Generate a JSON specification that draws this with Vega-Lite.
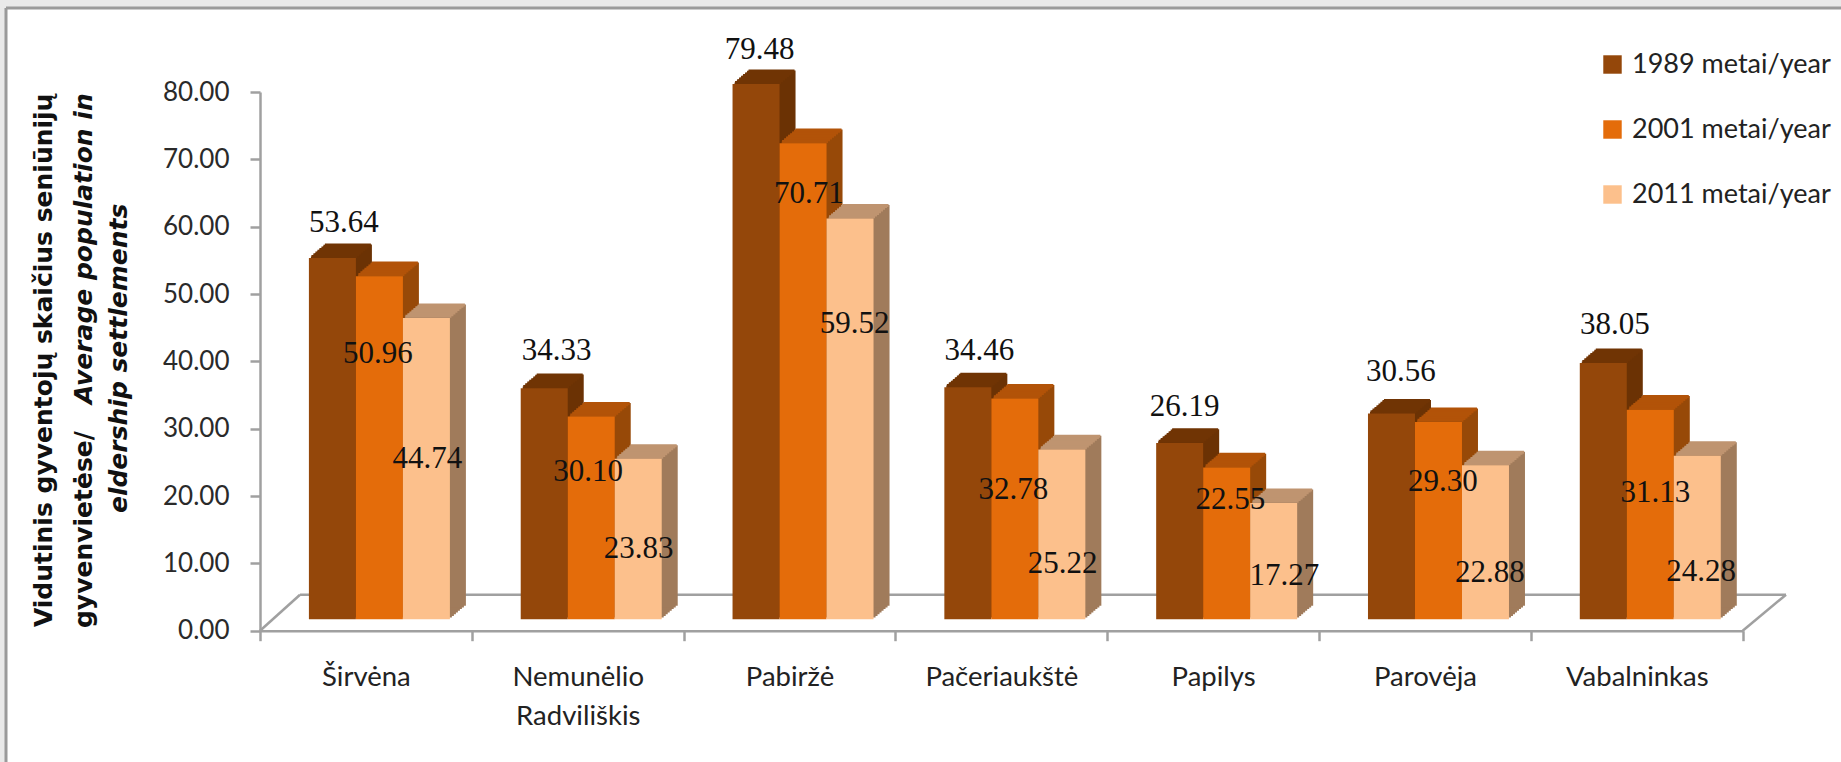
{"$schema":"https://vega.github.io/schema/vega-lite/v6.json","width":1835,"height":754,"autosize":{"type":"none"},"padding":{"left":6,"top":8,"right":0,"bottom":0},"background":"#e9e9e9","view":{"fill":"#ffffff","stroke":"#9a9a9a","strokeWidth":3,"strokeDash":[1835,2589,754,0]},
"config":{"text":{"font":"Liberation Serif","fontSize":31,"color":"#111111","baseline":"middle","align":"center"},"bar":{"width":47,"cornerRadius":0}},
"data":{"values":[
{"c":"Širvėna","s":"1989 metai/year","v":53.64},{"c":"Nemunėlio Radviliškis","s":"1989 metai/year","v":34.33},{"c":"Pabiržė","s":"1989 metai/year","v":79.48},{"c":"Pačeriaukštė","s":"1989 metai/year","v":34.46},{"c":"Papilys","s":"1989 metai/year","v":26.19},{"c":"Parovėja","s":"1989 metai/year","v":30.56},{"c":"Vabalninkas","s":"1989 metai/year","v":38.05},
{"c":"Širvėna","s":"2001 metai/year","v":50.96},{"c":"Nemunėlio Radviliškis","s":"2001 metai/year","v":30.10},{"c":"Pabiržė","s":"2001 metai/year","v":70.71},{"c":"Pačeriaukštė","s":"2001 metai/year","v":32.78},{"c":"Papilys","s":"2001 metai/year","v":22.55},{"c":"Parovėja","s":"2001 metai/year","v":29.30},{"c":"Vabalninkas","s":"2001 metai/year","v":31.13},
{"c":"Širvėna","s":"2011 metai/year","v":44.74},{"c":"Nemunėlio Radviliškis","s":"2011 metai/year","v":23.83},{"c":"Pabiržė","s":"2011 metai/year","v":59.52},{"c":"Pačeriaukštė","s":"2011 metai/year","v":25.22},{"c":"Papilys","s":"2011 metai/year","v":17.27},{"c":"Parovėja","s":"2011 metai/year","v":22.88},{"c":"Vabalninkas","s":"2011 metai/year","v":24.28}
]},
"encoding":{
"x":{"field":"c","type":"nominal","scale":{"domain":["Širvėna","Nemunėlio Radviliškis","Pabiržė","Pačeriaukštė","Papilys","Parovėja","Vabalninkas"],"range":[254,1736.7],"paddingInner":0,"paddingOuter":0},"axis":{"title":null,"offset":-131.3,"labelAngle":0,"tickBand":"extent","tickSize":10,"tickWidth":2.5,"tickColor":"#a0a0a0","domainColor":"#a0a0a0","domainWidth":2.5,"labelFont":"Lato","labelFontSize":27.5,"labelColor":"#222222","labelPadding":23,"labelLineHeight":39,"labelExpr":"split(datum.label,' ')"}},
"y":{"field":"v","type":"quantitative","stack":null,"scale":{"domain":[0,80],"nice":false,"range":[622.7,84]},"axis":{"title":null,"offset":-254,"grid":false,"values":[0,10,20,30,40,50,60,70,80],"format":".2f","tickSize":10,"tickWidth":2.5,"tickColor":"#a0a0a0","domainColor":"#a0a0a0","domainWidth":2.5,"labelFont":"Lato","labelFontSize":26,"labelColor":"#2a2a2a","labelPadding":21}}
},
"layer":[
{"data":{"values":[{"a":"Širvėna","b":"Širvėna","z":0}]},"mark":{"type":"rule","color":"#a0a0a0","strokeWidth":2.5,"xOffset":-105.9,"x2Offset":-65.9,"yOffset":0,"y2Offset":-36},"encoding":{"x":{"field":"a","type":"nominal"},"x2":{"field":"b"},"y":{"field":"z","type":"quantitative"},"y2":{"field":"z"}}},
{"data":{"values":[{"a":"Širvėna","b":"Vabalninkas","z":0}]},"mark":{"type":"rule","color":"#a0a0a0","strokeWidth":2.5,"xOffset":-65.9,"x2Offset":149.2,"yOffset":-36,"y2Offset":-36},"encoding":{"x":{"field":"a","type":"nominal"},"x2":{"field":"b"},"y":{"field":"z","type":"quantitative"},"y2":{"field":"z"}}},
{"data":{"values":[{"a":"Vabalninkas","b":"Vabalninkas","z":0}]},"mark":{"type":"rule","color":"#a0a0a0","strokeWidth":2.5,"xOffset":105.9,"x2Offset":149.2,"yOffset":0,"y2Offset":-36},"encoding":{"x":{"field":"a","type":"nominal"},"x2":{"field":"b"},"y":{"field":"z","type":"quantitative"},"y2":{"field":"z"}}},
{"transform":[{"filter":"datum.s=='1989 metai/year'"}],"layer":[
{"encoding":{"y2":{"datum":0}},"layer":[
{"mark":{"type":"bar","color":"#6b3204","xOffset":-31.5,"yOffset":-13.1,"y2Offset":-13.1}},
{"mark":{"type":"bar","color":"#6b3204","xOffset":-29.5,"yOffset":-14.8,"y2Offset":-14.8}},
{"mark":{"type":"bar","color":"#6b3204","xOffset":-27.5,"yOffset":-16.5,"y2Offset":-16.5}},
{"mark":{"type":"bar","color":"#6b3204","xOffset":-25.5,"yOffset":-18.2,"y2Offset":-18.2}},
{"mark":{"type":"bar","color":"#6b3204","xOffset":-23.5,"yOffset":-19.9,"y2Offset":-19.9}},
{"mark":{"type":"bar","color":"#6b3204","xOffset":-21.5,"yOffset":-21.6,"y2Offset":-21.6}},
{"mark":{"type":"bar","color":"#6b3204","xOffset":-19.5,"yOffset":-23.3,"y2Offset":-23.3}},
{"mark":{"type":"bar","color":"#6b3204","xOffset":-17.5,"yOffset":-25,"y2Offset":-25}}
]},
{"encoding":{"y2":{"field":"v"}},"layer":[
{"mark":{"type":"bar","width":46,"strokeWidth":3,"stroke":"#703404","xOffset":-31.5,"yOffset":-13.1,"y2Offset":-13.1}},
{"mark":{"type":"bar","width":46,"strokeWidth":3,"stroke":"#703404","xOffset":-29.5,"yOffset":-14.8,"y2Offset":-14.8}},
{"mark":{"type":"bar","width":46,"strokeWidth":3,"stroke":"#703404","xOffset":-27.5,"yOffset":-16.5,"y2Offset":-16.5}},
{"mark":{"type":"bar","width":46,"strokeWidth":3,"stroke":"#703404","xOffset":-25.5,"yOffset":-18.2,"y2Offset":-18.2}},
{"mark":{"type":"bar","width":46,"strokeWidth":3,"stroke":"#703404","xOffset":-23.5,"yOffset":-19.9,"y2Offset":-19.9}},
{"mark":{"type":"bar","width":46,"strokeWidth":3,"stroke":"#703404","xOffset":-21.5,"yOffset":-21.6,"y2Offset":-21.6}},
{"mark":{"type":"bar","width":46,"strokeWidth":3,"stroke":"#703404","xOffset":-19.5,"yOffset":-23.3,"y2Offset":-23.3}},
{"mark":{"type":"bar","width":46,"strokeWidth":3,"stroke":"#703404","xOffset":-18,"yOffset":-24.5,"y2Offset":-24.5}}
]}
]},
{"transform":[{"filter":"datum.s=='2001 metai/year'"}],"layer":[
{"encoding":{"y2":{"datum":0}},"layer":[
{"mark":{"type":"bar","color":"#974908","xOffset":15.5,"yOffset":-13.1,"y2Offset":-13.1}},
{"mark":{"type":"bar","color":"#974908","xOffset":17.5,"yOffset":-14.8,"y2Offset":-14.8}},
{"mark":{"type":"bar","color":"#974908","xOffset":19.5,"yOffset":-16.5,"y2Offset":-16.5}},
{"mark":{"type":"bar","color":"#974908","xOffset":21.5,"yOffset":-18.2,"y2Offset":-18.2}},
{"mark":{"type":"bar","color":"#974908","xOffset":23.5,"yOffset":-19.9,"y2Offset":-19.9}},
{"mark":{"type":"bar","color":"#974908","xOffset":25.5,"yOffset":-21.6,"y2Offset":-21.6}},
{"mark":{"type":"bar","color":"#974908","xOffset":27.5,"yOffset":-23.3,"y2Offset":-23.3}},
{"mark":{"type":"bar","color":"#974908","xOffset":29.5,"yOffset":-25,"y2Offset":-25}}
]},
{"encoding":{"y2":{"field":"v"}},"layer":[
{"mark":{"type":"bar","width":46,"strokeWidth":3,"stroke":"#b25308","xOffset":15.5,"yOffset":-13.1,"y2Offset":-13.1}},
{"mark":{"type":"bar","width":46,"strokeWidth":3,"stroke":"#b25308","xOffset":17.5,"yOffset":-14.8,"y2Offset":-14.8}},
{"mark":{"type":"bar","width":46,"strokeWidth":3,"stroke":"#b25308","xOffset":19.5,"yOffset":-16.5,"y2Offset":-16.5}},
{"mark":{"type":"bar","width":46,"strokeWidth":3,"stroke":"#b25308","xOffset":21.5,"yOffset":-18.2,"y2Offset":-18.2}},
{"mark":{"type":"bar","width":46,"strokeWidth":3,"stroke":"#b25308","xOffset":23.5,"yOffset":-19.9,"y2Offset":-19.9}},
{"mark":{"type":"bar","width":46,"strokeWidth":3,"stroke":"#b25308","xOffset":25.5,"yOffset":-21.6,"y2Offset":-21.6}},
{"mark":{"type":"bar","width":46,"strokeWidth":3,"stroke":"#b25308","xOffset":27.5,"yOffset":-23.3,"y2Offset":-23.3}},
{"mark":{"type":"bar","width":46,"strokeWidth":3,"stroke":"#b25308","xOffset":29,"yOffset":-24.5,"y2Offset":-24.5}}
]}
]},
{"transform":[{"filter":"datum.s=='2011 metai/year'"}],"layer":[
{"encoding":{"y2":{"datum":0}},"layer":[
{"mark":{"type":"bar","color":"#a07b5b","xOffset":62.5,"yOffset":-13.1,"y2Offset":-13.1}},
{"mark":{"type":"bar","color":"#a07b5b","xOffset":64.5,"yOffset":-14.8,"y2Offset":-14.8}},
{"mark":{"type":"bar","color":"#a07b5b","xOffset":66.5,"yOffset":-16.5,"y2Offset":-16.5}},
{"mark":{"type":"bar","color":"#a07b5b","xOffset":68.5,"yOffset":-18.2,"y2Offset":-18.2}},
{"mark":{"type":"bar","color":"#a07b5b","xOffset":70.5,"yOffset":-19.9,"y2Offset":-19.9}},
{"mark":{"type":"bar","color":"#a07b5b","xOffset":72.5,"yOffset":-21.6,"y2Offset":-21.6}},
{"mark":{"type":"bar","color":"#a07b5b","xOffset":74.5,"yOffset":-23.3,"y2Offset":-23.3}},
{"mark":{"type":"bar","color":"#a07b5b","xOffset":76.5,"yOffset":-25,"y2Offset":-25}}
]},
{"encoding":{"y2":{"field":"v"}},"layer":[
{"mark":{"type":"bar","width":46,"strokeWidth":3,"stroke":"#bf9470","xOffset":62.5,"yOffset":-13.1,"y2Offset":-13.1}},
{"mark":{"type":"bar","width":46,"strokeWidth":3,"stroke":"#bf9470","xOffset":64.5,"yOffset":-14.8,"y2Offset":-14.8}},
{"mark":{"type":"bar","width":46,"strokeWidth":3,"stroke":"#bf9470","xOffset":66.5,"yOffset":-16.5,"y2Offset":-16.5}},
{"mark":{"type":"bar","width":46,"strokeWidth":3,"stroke":"#bf9470","xOffset":68.5,"yOffset":-18.2,"y2Offset":-18.2}},
{"mark":{"type":"bar","width":46,"strokeWidth":3,"stroke":"#bf9470","xOffset":70.5,"yOffset":-19.9,"y2Offset":-19.9}},
{"mark":{"type":"bar","width":46,"strokeWidth":3,"stroke":"#bf9470","xOffset":72.5,"yOffset":-21.6,"y2Offset":-21.6}},
{"mark":{"type":"bar","width":46,"strokeWidth":3,"stroke":"#bf9470","xOffset":74.5,"yOffset":-23.3,"y2Offset":-23.3}},
{"mark":{"type":"bar","width":46,"strokeWidth":3,"stroke":"#bf9470","xOffset":76,"yOffset":-24.5,"y2Offset":-24.5}}
]}
]},
{"encoding":{"y2":{"datum":0},"color":{"field":"s","type":"nominal","scale":{"domain":["1989 metai/year","2001 metai/year","2011 metai/year"],"range":["#94470a","#e46c0a","#fcc08c"]},"legend":{"title":null,"orient":"none","legendX":1593,"legendY":43,"labelLimit":400,"symbolType":"square","symbolSize":340,"symbolStrokeWidth":0,"symbolOpacity":1,"labelFont":"Lato","labelFontSize":27,"labelColor":"#222222","labelOffset":6,"rowPadding":37}}},"layer":[
{"transform":[{"filter":"datum.s=='1989 metai/year'"}],"mark":{"type":"bar","xOffset":-33.5,"yOffset":-11.4,"y2Offset":-11.4}},
{"transform":[{"filter":"datum.s=='2001 metai/year'"}],"mark":{"type":"bar","xOffset":13.5,"yOffset":-11.4,"y2Offset":-11.4}},
{"transform":[{"filter":"datum.s=='2011 metai/year'"}],"mark":{"type":"bar","xOffset":60.5,"yOffset":-11.4,"y2Offset":-11.4}}
]},
{"encoding":{"text":{"field":"v","type":"quantitative","format":".2f"}},"layer":[
{"transform":[{"filter":"datum.v==53.64"}],"mark":{"type":"text","dx":-22,"dy":-46.5}},
{"transform":[{"filter":"datum.v==34.33"}],"mark":{"type":"text","dx":-21,"dy":-48.5}},
{"transform":[{"filter":"datum.v==79.48"}],"mark":{"type":"text","dx":-30,"dy":-46}},
{"transform":[{"filter":"datum.v==34.46"}],"mark":{"type":"text","dx":-22,"dy":-47.6}},
{"transform":[{"filter":"datum.v==26.19"}],"mark":{"type":"text","dx":-28.5,"dy":-47}},
{"transform":[{"filter":"datum.v==30.56"}],"mark":{"type":"text","dx":-24,"dy":-52.7}},
{"transform":[{"filter":"datum.v==38.05"}],"mark":{"type":"text","dx":-22,"dy":-49.3}},
{"transform":[{"filter":"datum.v==50.96"}],"mark":{"type":"text","dx":12,"dy":66}},
{"transform":[{"filter":"datum.v==30.10"}],"mark":{"type":"text","dx":10.5,"dy":44}},
{"transform":[{"filter":"datum.v==70.71"}],"mark":{"type":"text","dx":19.4,"dy":39}},
{"transform":[{"filter":"datum.v==32.78"}],"mark":{"type":"text","dx":12,"dy":79.6}},
{"transform":[{"filter":"datum.v==22.55"}],"mark":{"type":"text","dx":17.3,"dy":21.3}},
{"transform":[{"filter":"datum.v==29.30"}],"mark":{"type":"text","dx":18,"dy":49}},
{"transform":[{"filter":"datum.v==31.13"}],"mark":{"type":"text","dx":18.6,"dy":72}},
{"transform":[{"filter":"datum.v==44.74"}],"mark":{"type":"text","dx":61.4,"dy":130}},
{"transform":[{"filter":"datum.v==23.83"}],"mark":{"type":"text","dx":61,"dy":79}},
{"transform":[{"filter":"datum.v==59.52"}],"mark":{"type":"text","dx":65.2,"dy":94}},
{"transform":[{"filter":"datum.v==25.22"}],"mark":{"type":"text","dx":61.2,"dy":103}},
{"transform":[{"filter":"datum.v==17.27"}],"mark":{"type":"text","dx":71.3,"dy":62}},
{"transform":[{"filter":"datum.v==22.88"}],"mark":{"type":"text","dx":64.9,"dy":96}},
{"transform":[{"filter":"datum.v==24.28"}],"mark":{"type":"text","dx":64.4,"dy":104.5}}
]},
{"data":{"values":[{"t":"Vidutinis gyventojų skaičius  seniūnijų","a":"Širvėna","z":40}]},"mark":{"type":"text","angle":270,"font":"DejaVu Sans","fontWeight":"bold","fontSize":25,"dx":1,"dy":-322},"encoding":{"x":{"field":"a","type":"nominal"},"y":{"field":"z","type":"quantitative"},"text":{"field":"t"}}},
{"data":{"values":[{"t":"gyvenvietėse/","a":"Širvėna","z":40}]},"mark":{"type":"text","angle":270,"align":"left","font":"DejaVu Sans","fontWeight":"bold","fontSize":25,"dx":-266.7,"dy":-282},"encoding":{"x":{"field":"a","type":"nominal"},"y":{"field":"z","type":"quantitative"},"text":{"field":"t"}}},
{"data":{"values":[{"t":"Average population in","a":"Širvėna","z":40}]},"mark":{"type":"text","angle":270,"align":"left","font":"DejaVu Sans","fontWeight":"bold","fontStyle":"italic","fontSize":25,"dx":-42.7,"dy":-282},"encoding":{"x":{"field":"a","type":"nominal"},"y":{"field":"z","type":"quantitative"},"text":{"field":"t"}}},
{"data":{"values":[{"t":"eldership settlements","a":"Širvėna","z":40}]},"mark":{"type":"text","angle":270,"font":"DejaVu Sans","fontWeight":"bold","fontStyle":"italic","fontSize":25,"dx":3,"dy":-247},"encoding":{"x":{"field":"a","type":"nominal"},"y":{"field":"z","type":"quantitative"},"text":{"field":"t"}}}
]
}
